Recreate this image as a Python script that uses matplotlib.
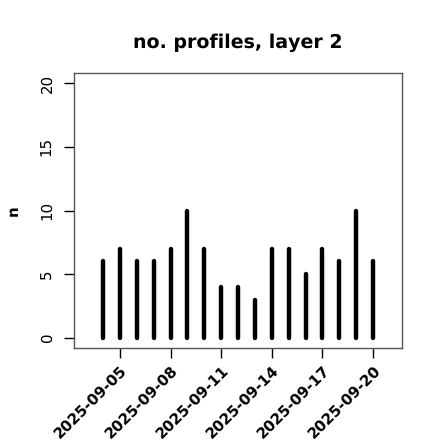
import matplotlib
matplotlib.use("Agg")
import matplotlib.pyplot as plt
import numpy as np

plt.rcParams["text.hinting"] = "no_hinting"
plt.rcParams["text.hinting_factor"] = 1

# dates 2025-09-04 .. 2025-09-20, one value per day
dates = np.arange(np.datetime64("2025-09-04"), np.datetime64("2025-09-21"))
counts = [6, 7, 6, 6, 7, 10, 7, 4, 4, 3, 7, 7, 5, 7, 6, 10, 6]
tick_dates = ["2025-09-05", "2025-09-08", "2025-09-11",
              "2025-09-14", "2025-09-17", "2025-09-20"]
highlight = "2025-09-11"

start = np.datetime64("2025-09-04")
x = (dates - start).astype(int)
tx = [(np.datetime64(d) - start).astype(int) for d in tick_dates]

fig = plt.figure(figsize=(4.4, 4.4), dpi=100)
ax = fig.add_axes([0.168, 0.209, 0.746, 0.625])

lc = ax.vlines(x, 0, counts, colors="black", linewidth=3.2)
lc.set_capstyle("round")

ax.set_xlim(-1.72, 17.72)
ax.set_ylim(-0.8, 20.8)
ax.set_yticks([0, 5, 10, 15, 20])
ax.set_yticklabels(["0", "5", "10", "15", "20"], rotation=90, va="center", fontsize=10.5)
ax.set_xticks(tx)
labels = ax.set_xticklabels(tick_dates, rotation=45, ha="right",
                            rotation_mode="anchor", fontsize=10.5, fontweight="bold")
for lab in labels:
    if lab.get_text() == highlight:
        lab.set_color("#229922")

ax.tick_params(length=7, width=1, colors="black")
ax.tick_params(axis="x", pad=4)
ax.tick_params(axis="y", pad=7)
for s in ax.spines.values():
    s.set_color("#555555")
    s.set_linewidth(1)

ax.set_ylabel("n", fontweight="bold", fontsize=11, labelpad=14)
ax.set_title("no. profiles, layer 2", fontweight="bold", fontsize=13.5, pad=18)

fig.savefig("out.png", dpi=100)
